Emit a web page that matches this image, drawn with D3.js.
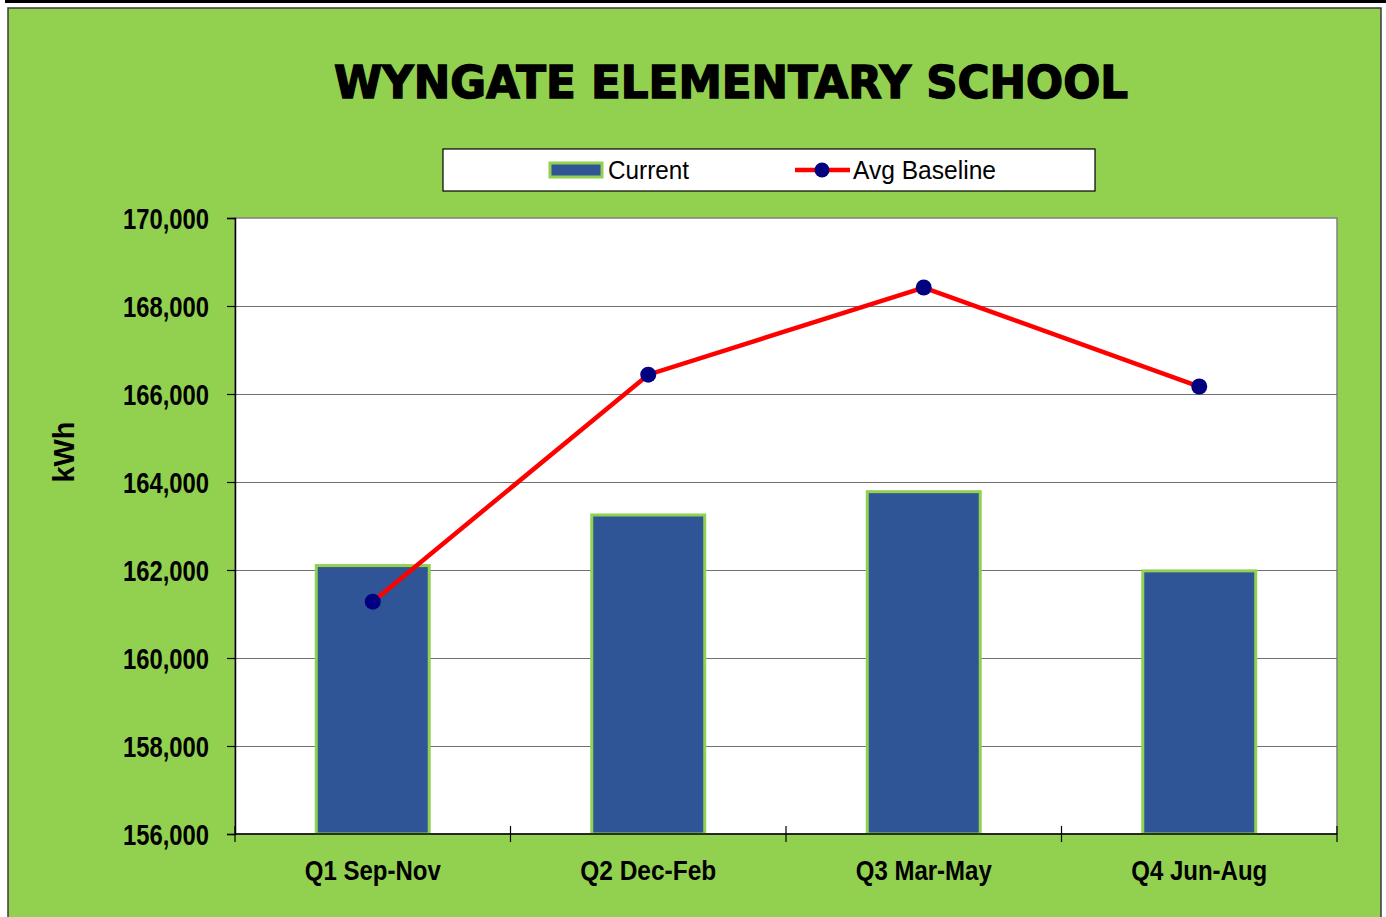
<html>
<head>
<meta charset="utf-8">
<script src="https://d3js.org/d3.v7.min.js"></script>
<style>
  body { margin: 0; background: #fff; }
  text { font-family: "Liberation Sans", Arial, sans-serif; }
</style>
</head>
<body>
<script>
// chart data
var quarters = ["Q1 Sep-Nov", "Q2 Dec-Feb", "Q3 Mar-May", "Q4 Jun-Aug"];
var current = [162100, 163250, 163780, 161980];
var baseline = [161280, 166440, 168420, 166170];
var yTicks = [156000, 158000, 160000, 162000, 164000, 166000, 168000, 170000];

var W = 1386, H = 917;
var plot = {left: 235, top: 218, right: 1337, bottom: 834};

var svg = d3.select("body").append("svg")
  .attr("width", W)
  .attr("height", H);

// top black strip and green chart area
svg.append("rect").attr("x", 5).attr("y", 0).attr("width", W - 5).attr("height", 3).attr("fill", "#000");
svg.append("rect")
  .attr("x", 8).attr("y", 8).attr("width", 1373).attr("height", 930)
  .attr("fill", "#92D050").attr("stroke", "#3a3a3a").attr("stroke-width", 1.5);

// title
svg.append("text")
  .attr("x", 731).attr("y", 98)
  .attr("text-anchor", "middle")
  .attr("textLength", 794).attr("lengthAdjust", "spacingAndGlyphs")
  .style("font-family", "'DejaVu Sans', sans-serif")
  .style("font-weight", "bold")
  .style("font-size", "44px")
  .attr("stroke", "#000").attr("stroke-width", 1.4)
  .text("WYNGATE ELEMENTARY SCHOOL");

var x = d3.scaleBand()
  .domain(quarters)
  .range([plot.left, plot.right])
  .paddingInner(0.59).paddingOuter(0.295);

var xc = d3.scalePoint()
  .domain(quarters)
  .range([plot.left, plot.right])
  .padding(0.5);

var y = d3.scaleLinear()
  .domain([156000, 170000])
  .range([plot.bottom, plot.top]);

// plot background
svg.append("rect")
  .attr("x", plot.left).attr("y", plot.top)
  .attr("width", plot.right - plot.left).attr("height", plot.bottom - plot.top)
  .attr("fill", "#fff").attr("stroke", "#808080").attr("stroke-width", 1.5);

// gridlines
svg.append("g")
  .selectAll("line")
  .data(yTicks.slice(1, -1))
  .enter().append("line")
  .attr("x1", plot.left).attr("x2", plot.right)
  .attr("y1", function(d) { return Math.round(y(d)) + 0.5; })
  .attr("y2", function(d) { return Math.round(y(d)) + 0.5; })
  .attr("stroke", "#707070").attr("stroke-width", 1.2);

// bars
svg.append("g")
  .selectAll("rect")
  .data(current)
  .enter().append("rect")
  .attr("x", function(d, i) { return x(quarters[i]); })
  .attr("y", function(d) { return y(d); })
  .attr("width", x.bandwidth())
  .attr("height", function(d) { return y(156000) - y(d); })
  .attr("fill", "#2F5597")
  .attr("stroke", "#92D050").attr("stroke-width", 3);

// y axis
var yAxis = d3.axisLeft(y)
  .tickValues(yTicks)
  .tickSize(8)
  .tickPadding(18)
  .tickFormat(d3.format(","));

var gy = svg.append("g")
  .attr("transform", "translate(" + plot.left + ",0)")
  .call(yAxis);
gy.select(".domain").attr("stroke", "#000").attr("stroke-width", 1.5);
gy.selectAll(".tick line").attr("stroke", "#000").attr("stroke-width", 1.2);
gy.selectAll(".tick text")
  .attr("dy", "0.36em")
  .attr("textLength", 86).attr("lengthAdjust", "spacingAndGlyphs")
  .style("font-family", "'Liberation Sans', Arial, sans-serif")
  .style("font-size", "29px").style("font-weight", "bold").attr("fill", "#000");

// x axis with ticks at category boundaries
var boundaries = d3.range(quarters.length + 1).map(function(i) { return plot.left + i * x.step(); });
svg.append("line")
  .attr("x1", plot.left).attr("x2", plot.right)
  .attr("y1", plot.bottom).attr("y2", plot.bottom)
  .attr("stroke", "#000").attr("stroke-width", 1.5);
svg.append("g")
  .selectAll("line")
  .data(boundaries)
  .enter().append("line")
  .attr("x1", function(d) { return d; }).attr("x2", function(d) { return d; })
  .attr("y1", plot.bottom - 8).attr("y2", plot.bottom + 8)
  .attr("stroke", "#000").attr("stroke-width", 1.2);
svg.append("g")
  .selectAll("text")
  .data(quarters)
  .enter().append("text")
  .attr("x", function(d) { return xc(d); })
  .attr("y", 880)
  .attr("text-anchor", "middle")
  .attr("textLength", 136).attr("lengthAdjust", "spacingAndGlyphs")
  .style("font-size", "28px").style("font-weight", "bold")
  .text(function(d) { return d; });

// y axis title
svg.append("text")
  .attr("transform", "translate(74,452) rotate(-90)")
  .attr("text-anchor", "middle")
  .attr("textLength", 61).attr("lengthAdjust", "spacingAndGlyphs")
  .style("font-size", "29px").style("font-weight", "bold")
  .text("kWh");

// baseline line
var line = d3.line()
  .x(function(d, i) { return xc(quarters[i]); })
  .y(function(d) { return y(d); });

svg.append("path")
  .datum(baseline)
  .attr("d", line)
  .attr("fill", "none")
  .attr("stroke", "#FF0000").attr("stroke-width", 4.5);

svg.append("g")
  .selectAll("circle")
  .data(baseline)
  .enter().append("circle")
  .attr("cx", function(d, i) { return xc(quarters[i]); })
  .attr("cy", function(d) { return y(d); })
  .attr("r", 8)
  .attr("fill", "#000080");

// legend
var lg = svg.append("g");
lg.append("rect")
  .attr("x", 443).attr("y", 149).attr("width", 652).attr("height", 42)
  .attr("fill", "#fff").attr("stroke", "#000").attr("stroke-width", 1.2);
lg.append("rect")
  .attr("x", 550).attr("y", 163).attr("width", 52).attr("height", 14)
  .attr("fill", "#2F5597").attr("stroke", "#92D050").attr("stroke-width", 3);
lg.append("text")
  .attr("x", 608).attr("y", 179)
  .attr("textLength", 81).attr("lengthAdjust", "spacingAndGlyphs")
  .style("font-size", "25px")
  .text("Current");
lg.append("line")
  .attr("x1", 795).attr("x2", 850).attr("y1", 170).attr("y2", 170)
  .attr("stroke", "#FF0000").attr("stroke-width", 4.5);
lg.append("circle")
  .attr("cx", 822).attr("cy", 170).attr("r", 7.5)
  .attr("fill", "#000080");
lg.append("text")
  .attr("x", 853).attr("y", 179)
  .attr("textLength", 143).attr("lengthAdjust", "spacingAndGlyphs")
  .style("font-size", "25px")
  .text("Avg Baseline");
</script>
</body>
</html>
